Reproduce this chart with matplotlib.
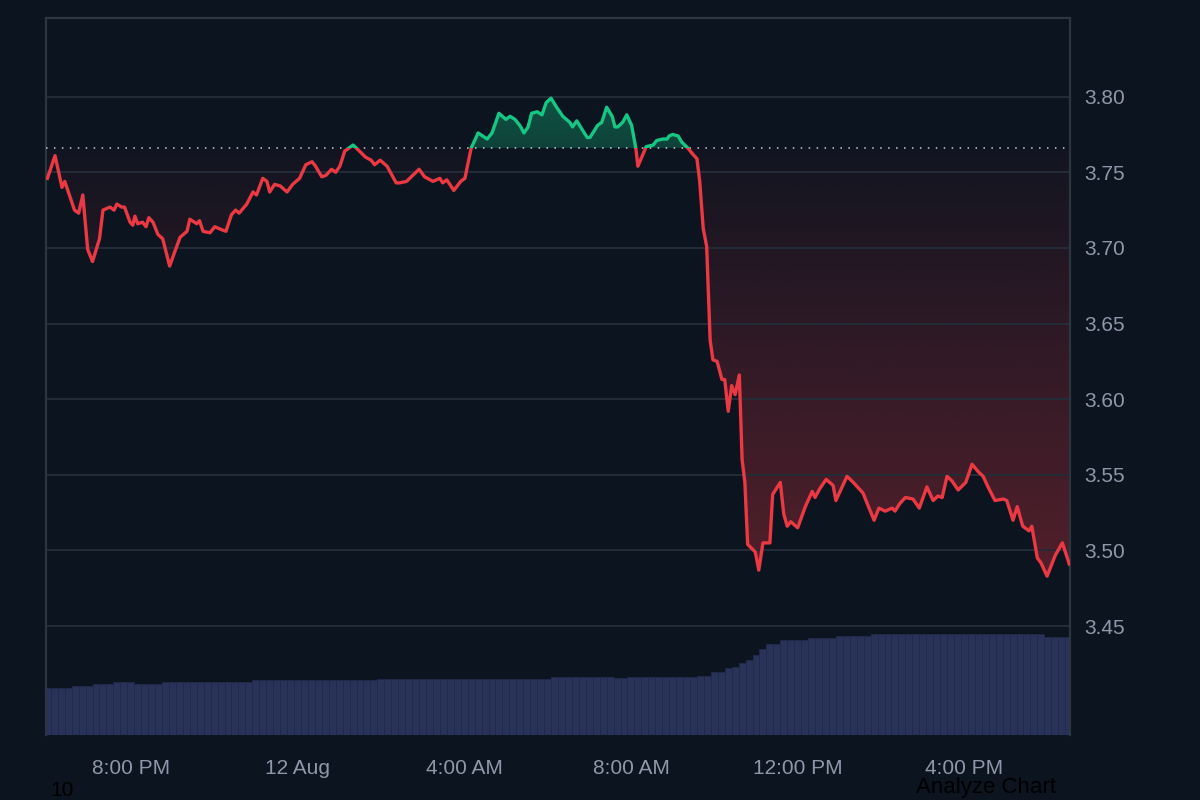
import numpy as np
import matplotlib
matplotlib.use("Agg")
import matplotlib.pyplot as plt
import matplotlib.dates as mdates
from matplotlib.patches import Rectangle
from matplotlib.path import Path
from datetime import datetime, timedelta

plt.rcParams['font.family'] = ['Liberation Sans', 'DejaVu Sans']

# --- data (minutes relative to 11 Aug 8:00 PM) ---
t_min = [-120, -109, -99, -95, -81, -75, -69, -62, -55, -45, -40, -30, -24, -20, -13, -9, -1, 3, 6, 10,
         17, 22, 26, 32, 39, 46, 56, 63, 71, 81, 85, 95, 99, 104, 114, 121, 131, 137, 145, 151,
         156, 167, 176, 181, 190, 196, 200, 207, 215, 225, 233, 243, 252, 261, 266, 275, 281, 289, 295, 301,
         308, 320, 327, 338, 346, 351, 359, 369, 376, 382, 387, 397, 406, 415, 423, 435, 445, 449, 455, 465,
         475, 481, 490, 500, 513, 520, 530, 540, 546, 553, 560, 566, 572, 577, 585, 592, 598, 605, 613, 622,
         632, 636, 642, 657, 661, 672, 678, 685, 693, 697, 701, 708, 714, 721, 727, 730, 742, 752, 757, 766,
         772, 775, 780, 788, 793, 802, 809, 815, 819, 824, 829, 834, 838, 844, 851, 855, 860, 865, 870, 876,
         880, 884, 888, 899, 904, 910, 920, 924, 935, 940, 945, 950, 960, 971, 981, 985, 992, 1001, 1011, 1015,
         1021, 1031, 1040, 1050, 1054, 1061, 1070, 1077, 1086, 1096, 1100, 1107, 1115, 1126, 1135, 1146, 1155, 1162, 1168, 1175,
         1182, 1191, 1202, 1211, 1220, 1227, 1234, 1244, 1256, 1261, 1270, 1276, 1284, 1293, 1297, 1305, 1310, 1319, 1331, 1341,
         1351]
price = [3.746, 3.761, 3.740, 3.744, 3.725, 3.723, 3.735, 3.699, 3.691, 3.706, 3.725, 3.727, 3.725, 3.729, 3.727, 3.727, 3.717, 3.715, 3.721, 3.716,
         3.717, 3.714, 3.720, 3.717, 3.709, 3.706, 3.688, 3.697, 3.707, 3.711, 3.719, 3.716, 3.718, 3.711, 3.710, 3.714, 3.712, 3.711, 3.722, 3.725,
         3.723, 3.729, 3.737, 3.735, 3.746, 3.744, 3.737, 3.742, 3.741, 3.737, 3.742, 3.746, 3.755, 3.757, 3.754, 3.747, 3.748, 3.752, 3.750, 3.754,
         3.764, 3.768, 3.765, 3.760, 3.758, 3.755, 3.758, 3.754, 3.748, 3.743, 3.743, 3.744, 3.748, 3.752, 3.747, 3.744, 3.746, 3.743, 3.745, 3.738,
         3.744, 3.746, 3.766, 3.776, 3.772, 3.776, 3.789, 3.785, 3.787, 3.785, 3.781, 3.776, 3.780, 3.789, 3.790, 3.788, 3.796, 3.799, 3.793, 3.787,
         3.783, 3.780, 3.784, 3.773, 3.773, 3.781, 3.783, 3.793, 3.787, 3.780, 3.780, 3.783, 3.788, 3.781, 3.766, 3.754, 3.767, 3.768, 3.771, 3.772,
         3.772, 3.774, 3.775, 3.774, 3.770, 3.766, 3.762, 3.759, 3.744, 3.713, 3.701, 3.639, 3.626, 3.625, 3.613, 3.613, 3.592, 3.609, 3.603, 3.616,
         3.560, 3.545, 3.504, 3.499, 3.487, 3.505, 3.505, 3.537, 3.545, 3.524, 3.516, 3.519, 3.515, 3.529, 3.539, 3.535, 3.541, 3.547, 3.543, 3.533,
         3.539, 3.549, 3.545, 3.540, 3.538, 3.530, 3.520, 3.528, 3.526, 3.528, 3.526, 3.531, 3.535, 3.534, 3.528, 3.542, 3.533, 3.536, 3.535, 3.549,
         3.546, 3.540, 3.545, 3.557, 3.552, 3.549, 3.542, 3.533, 3.534, 3.533, 3.520, 3.529, 3.516, 3.513, 3.516, 3.495, 3.492, 3.483, 3.497, 3.505,
         3.491]
baseline = 3.766

# volume, one bar per 10 minutes starting at -120
vol_start = -120
vol_step = 10
volume = ([47] * 4 + [49] * 3 + [51] * 3 + [53] * 3 + [51] * 4 + [53] * 13 + [55] * 18 + [56] * 25
          + [58] * 9 + [57] * 2 + [58] * 10 + [59] * 2 + [63] * 2 + [67, 68, 72, 75, 80, 86]
          + [91] * 2 + [95] * 4 + [97] * 4 + [99] * 5 + [101] * 25 + [98] * 4)

y_ticks = [3.45, 3.50, 3.55, 3.60, 3.65, 3.70, 3.75, 3.80]

# --- style ---
BG = '#0c1420'
RED = '#ea3943'
GREEN = '#16c784'
GRID = '#232c38'
SPINE = '#2c3540'
TXT = '#8e98a8'

t0 = datetime(2024, 8, 11, 20, 0)
tx = mdates.date2num([t0 + timedelta(minutes=m) for m in t_min])
py = np.array(price)
vx = mdates.date2num([t0 + timedelta(minutes=vol_start + i * vol_step) for i in range(len(volume))])
xlim = mdates.date2num([t0 + timedelta(minutes=-122), t0 + timedelta(minutes=1352)])
ylim = (3.378, 3.852)

fig = plt.figure(figsize=(12, 8), dpi=100, facecolor=BG)
rect = [46 / 1200, 1 - 735 / 800, 1024 / 1200, 717 / 800]

# volume axes behind
axv = fig.add_axes(rect, facecolor=BG)
axv.bar(vx, volume, width=vol_step / 1440, color='#29335a', edgecolor='#222a4a',
        lw=0.6, align='center')
axv.set_xlim(xlim)
axv.set_ylim(0, 717)
axv.axis('off')

# price axes on top
ax = fig.add_axes(rect, facecolor='none')
ax.set_xlim(xlim)
ax.set_ylim(ylim)

# gradient fills
below = ax.fill_between(tx, py, baseline, where=py <= baseline, interpolate=True, facecolor='none', edgecolor='none')
above = ax.fill_between(tx, py, baseline, where=py >= baseline, interpolate=True, facecolor='none', edgecolor='none')

ramp = np.linspace(0, 1, 256)[:, None]
red_img = np.zeros((256, 1, 4))
red_img[..., :3] = matplotlib.colors.to_rgb(RED)
red_img[..., 3] = 0.32 - 0.29 * ramp  # strong at bottom, faint at baseline
below_path = Path.make_compound_path(*below.get_paths())
im_r = ax.imshow(red_img, extent=[xlim[0], xlim[1], 3.48, baseline], origin='lower',
                 aspect='auto', interpolation='bilinear', zorder=0.2)
im_r.set_clip_path(below_path, transform=ax.transData)
im_r2 = ax.imshow(red_img[:1], extent=[xlim[0], xlim[1], ylim[0], 3.48], origin='lower',
                  aspect='auto', zorder=0.2)
im_r2.set_clip_path(below_path, transform=ax.transData)

green_img = np.zeros((256, 1, 4))
green_img[..., :3] = matplotlib.colors.to_rgb(GREEN)
green_img[..., 3] = 0.26 + 0.1 * ramp
im_g = ax.imshow(green_img, extent=[xlim[0], xlim[1], baseline, 3.80], origin='lower',
                 aspect='auto', interpolation='bilinear', zorder=0.2)
im_g.set_clip_path(Path.make_compound_path(*above.get_paths()), transform=ax.transData)

# price line, split at baseline by clipping
ln_r, = ax.plot(tx, py, color=RED, lw=2.4, zorder=4, solid_joinstyle='round')
ln_g, = ax.plot(tx, py, color=GREEN, lw=2.4, zorder=4, solid_joinstyle='round')
ln_r.set_clip_path(Rectangle((xlim[0], ylim[0]), xlim[1] - xlim[0], baseline - ylim[0], transform=ax.transData))
ln_g.set_clip_path(Rectangle((xlim[0], baseline), xlim[1] - xlim[0], ylim[1] - baseline, transform=ax.transData))

ax.axhline(baseline, color='#c9ced6', lw=1.1, ls=(0, (1, 4.2)), zorder=3)

# axes styling
ax.set_yticks(y_ticks)
ax.yaxis.tick_right()
ax.yaxis.set_major_formatter(plt.FuncFormatter(lambda v, p: f'{v:.2f}'))
ax.grid(axis='y', color=GRID, lw=1.4)
ax.set_axisbelow(True)
ax.xaxis.set_major_locator(mdates.HourLocator(byhour=range(0, 24, 4)))


def fmt_time(v, pos):
    d = mdates.num2date(v)
    if d.hour == 0 and d.minute == 0:
        return f'{d.day} {d:%b}'
    return d.strftime('%I:%M %p').lstrip('0')


ax.xaxis.set_major_formatter(plt.FuncFormatter(fmt_time))
ax.tick_params(axis='both', length=0, labelsize=15, colors=TXT)
ax.tick_params(axis='x', pad=17)
ax.tick_params(axis='y', pad=10)
for s in ['top', 'left', 'right']:
    ax.spines[s].set_color(SPINE)
    ax.spines[s].set_linewidth(1.6)
ax.spines['bottom'].set_visible(False)

fig.text(50 / 1200, 1 - 791 / 800, '10', color='black', fontsize=15, va='center')
fig.text(916 / 1200, 1 - 787 / 800, 'Analyze Chart', color='black', fontsize=16, va='center')

fig.savefig('out.png', dpi=100, facecolor=BG)
